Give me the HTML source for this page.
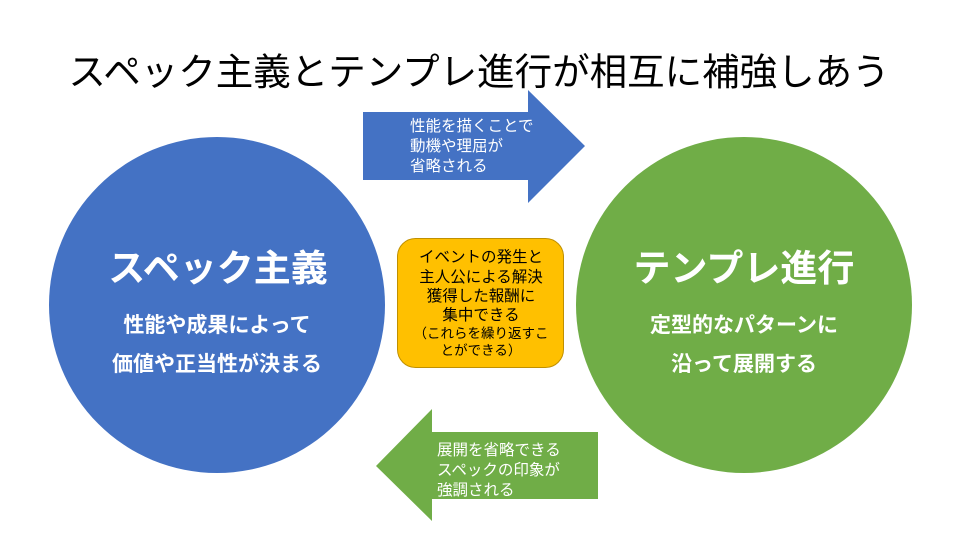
<!DOCTYPE html>
<html><head><meta charset="utf-8"><style>
html,body{margin:0;padding:0;background:#fff;}
svg{display:block;}
text{font-family:"Liberation Sans","Noto Sans CJK JP",sans-serif;}
</style></head><body>
<svg width="960" height="540" viewBox="0 0 960 540" xmlns="http://www.w3.org/2000/svg">
<rect width="960" height="540" fill="#fff"/>
<text x="479" y="85" text-anchor="middle" font-size="37.5" fill="#000">スペック主義とテンプレ進行が相互に補強しあう</text>
<circle cx="217" cy="305" r="168" fill="#4472C4"/>
<circle cx="744" cy="305" r="168" fill="#70AD47"/>
<polygon points="363,112 528,112 528,90 585,146 528,203 528,180 363,180" fill="#4472C4"/>
<polygon points="598,432 432,432 432,409 376,466 432,521 432,499 598,499" fill="#70AD47"/>
<rect x="397.5" y="238.5" width="166" height="129" rx="18" fill="#FFC000" stroke="#C09000" stroke-width="1"/>
<g fill="#fff" font-size="15.5">
<text x="410" y="131">性能を描くことで</text>
<text x="410" y="151">動機や理屈が</text>
<text x="410" y="171">省略される</text>
<text x="437" y="455">展開を省略できる</text>
<text x="437" y="475">スペックの印象が</text>
<text x="437" y="495">強調される</text>
</g>
<g fill="#000" font-size="15.5" text-anchor="middle">
<text x="481" y="262">イベントの発生と</text>
<text x="481" y="282">主人公による解決</text>
<text x="481" y="301">獲得した報酬に</text>
<text x="481" y="320">集中できる</text>
<text x="481" y="338" font-size="13.5">（これらを繰り返すこ</text>
<text x="481" y="355" font-size="13.5">とができる）</text>
</g>
<g fill="#fff" font-weight="bold" text-anchor="middle">
<text x="218" y="281" font-size="37">スペック主義</text>
<text x="217" y="332" font-size="21">性能や成果によって</text>
<text x="217" y="371" font-size="21">価値や正当性が決まる</text>
<text x="744" y="281" font-size="37">テンプレ進行</text>
<text x="744" y="332" font-size="21">定型的なパターンに</text>
<text x="744" y="371" font-size="21">沿って展開する</text>
</g>
</svg>
</body></html>
